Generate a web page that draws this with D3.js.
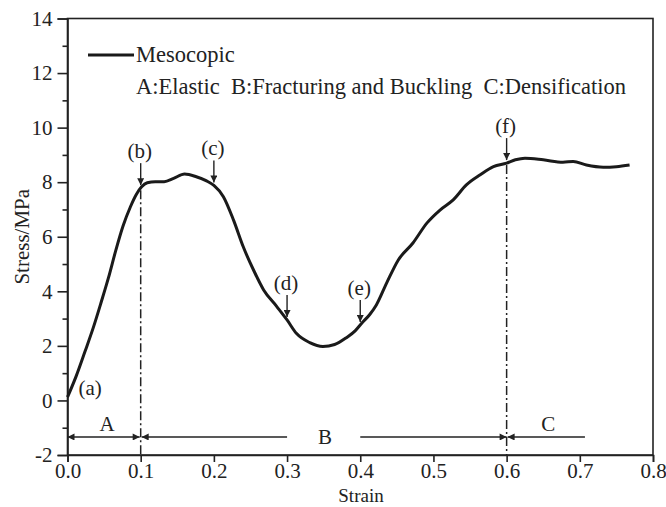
<!DOCTYPE html>
<html>
<head>
<meta charset="utf-8">
<script src="https://cdn.jsdelivr.net/npm/d3@7"></script>
<style>
  body { margin: 0; background: #fff; }
  svg, svg text { font-family: "Liberation Serif", "Times New Roman", serif; }
</style>
</head>
<body>
<svg width="666" height="507"></svg>
<script>
// stress-strain curve
const strain = [0, 0.012, 0.024, 0.035, 0.046, 0.056, 0.066, 0.076, 0.086, 0.094, 0.101, 0.109, 0.12, 0.132,
    0.145, 0.16, 0.176, 0.19, 0.2, 0.213, 0.227, 0.24, 0.254, 0.268, 0.286, 0.3, 0.313, 0.331, 0.349, 0.365,
    0.381, 0.393, 0.402, 0.413, 0.422, 0.436, 0.452, 0.472, 0.491, 0.509, 0.527, 0.545, 0.564, 0.582, 0.6,
    0.612, 0.625, 0.65, 0.677, 0.691, 0.709, 0.732, 0.75, 0.768];
const stress = [0.12, 0.9, 1.8, 2.65, 3.6, 4.5, 5.5, 6.4, 7.1, 7.55, 7.82, 7.98, 8.02, 8.02,
    8.14, 8.3, 8.2, 8.05, 7.88, 7.47, 6.6, 5.64, 4.79, 4.05, 3.44, 2.95, 2.45, 2.12, 1.98, 2.05,
    2.3, 2.55, 2.83, 3.15, 3.5, 4.3, 5.15, 5.77, 6.5, 6.98, 7.35, 7.9, 8.27, 8.57, 8.7,
    8.82, 8.88, 8.82, 8.73, 8.76, 8.63, 8.55, 8.57, 8.63];

const xTicks = [0, 0.1, 0.2, 0.3, 0.4, 0.5, 0.6, 0.7, 0.8];
const yTicks = [-2, 0, 2, 4, 6, 8, 10, 12, 14];
const yMinor = [-1, 1, 3, 5, 7, 9, 11, 13];

// arrow annotations on the curve
const pointLabels = ['(b)', '(c)', '(d)', '(e)', '(f)'];
const pointStrain = [0.1, 0.2, 0.3, 0.4, 0.6];

// stage boundaries and names
const stageBounds = [0.1, 0.6];
const stageNames = ['A', 'B', 'C'];
const stageLabelX = [0.054, 0.352, 0.657];
const stageArrowY = -1.34;
const legendNames = ['Mesocopic', 'A:Elastic  B:Fracturing and Buckling  C:Densification'];

const svg = d3.select('svg');
const ink = '#222';

const x = d3.scaleLinear().domain([0, 0.8]).range([67.5, 653]);
const y = d3.scaleLinear().domain([-2, 14]).range([455, 18.5]);

const defs = svg.append('defs');
defs.append('marker')
    .attr('id', 'head')
    .attr('viewBox', '0 0 10 10')
    .attr('refX', 10).attr('refY', 5)
    .attr('markerWidth', 10).attr('markerHeight', 7)
    .attr('markerUnits', 'userSpaceOnUse')
    .attr('orient', 'auto-start-reverse')
    .append('path')
    .attr('d', 'M0,0L10,5L0,10Z')
    .attr('fill', ink);

// frame
svg.append('rect')
    .attr('x', x(0)).attr('y', y(14))
    .attr('width', x(0.8) - x(0)).attr('height', y(-2) - y(14))
    .attr('fill', 'none').attr('stroke', ink).attr('stroke-width', 1.6);

// axes
svg.append('g')
    .attr('transform', `translate(0,${y(-2)})`)
    .call(d3.axisBottom(x).tickValues(xTicks).tickFormat(d3.format('.1f')).tickSize(7).tickPadding(1));
svg.append('g')
    .attr('transform', `translate(${x(0)},0)`)
    .call(d3.axisLeft(y).tickValues(yTicks).tickFormat(d => String(d)).tickSize(10).tickPadding(5));
svg.append('g')
    .attr('transform', `translate(${x(0)},0)`)
    .call(d3.axisLeft(y).tickValues(yMinor).tickSize(5).tickFormat(''))
    .select('.domain').remove();

svg.selectAll('g').attr('font-family', null).attr('font-size', null);
svg.selectAll('.domain').attr('stroke', ink).attr('stroke-width', 1.6);
svg.selectAll('.tick line').attr('stroke', ink).attr('stroke-width', 1.6);
svg.selectAll('.tick text').attr('font-size', 21).attr('fill', ink);

svg.append('text')
    .attr('x', 361).attr('y', 502)
    .attr('text-anchor', 'middle').attr('font-size', 19).attr('fill', ink)
    .text('Strain');
svg.append('text')
    .attr('transform', `translate(29,${y(6)}) rotate(-90)`)
    .attr('text-anchor', 'middle').attr('font-size', 21).attr('fill', ink)
    .text('Stress/MPa');

// curve
const pts = strain.map((s, i) => [s, stress[i]]);
const line = d3.line().x(d => x(d[0])).y(d => y(d[1])).curve(d3.curveMonotoneX);
svg.append('path')
    .attr('d', line(pts))
    .attr('fill', 'none').attr('stroke', '#1a1a1a').attr('stroke-width', 3)
    .attr('stroke-linejoin', 'round');

function stressAt(s) {
    const i = d3.bisectRight(strain, s);
    if (i <= 0) return stress[0];
    if (i >= strain.length) return stress[stress.length - 1];
    const t = (s - strain[i - 1]) / (strain[i] - strain[i - 1]);
    return stress[i - 1] + t * (stress[i] - stress[i - 1]);
}

// dash-dot stage lines
svg.selectAll('.stage-line')
    .data(stageBounds)
    .enter()
    .append('line')
    .attr('x1', d => x(d)).attr('x2', d => x(d))
    .attr('y1', d => y(stressAt(d)) + 2).attr('y2', y(-2))
    .attr('stroke', ink).attr('stroke-width', 1.5)
    .attr('stroke-dasharray', '9,3,2,3');

// point arrows
const ann = svg.selectAll('.ann')
    .data(pointStrain)
    .enter()
    .append('g');
ann.append('line')
    .attr('x1', d => x(d)).attr('x2', d => x(d))
    .attr('y1', d => y(stressAt(d)) - 25)
    .attr('y2', d => y(stressAt(d)) - 3)
    .attr('stroke', ink).attr('stroke-width', 1.4)
    .attr('marker-end', 'url(#head)');
ann.append('text')
    .attr('x', d => x(d) - 1)
    .attr('y', d => y(stressAt(d)) - 30)
    .attr('text-anchor', 'middle').attr('font-size', 21).attr('fill', ink)
    .text((d, i) => pointLabels[i]);

svg.append('text')
    .attr('x', x(0.015)).attr('y', y(0.2))
    .attr('font-size', 21).attr('fill', ink)
    .text('(a)');

// stage arrows
const stageSegs = [
    [0, stageBounds[0], true, true],
    [stageBounds[0], 0.3, true, false],
    [0.4, stageBounds[1], false, true],
    [stageBounds[1], 0.707, true, false]
];
svg.selectAll('.seg')
    .data(stageSegs)
    .enter()
    .append('line')
    .attr('x1', d => x(d[0]) + (d[2] && d[0] > 0 ? 1 : 0))
    .attr('x2', d => x(d[1]) - (d[3] && d[1] < 0.6 ? 1 : 0))
    .attr('y1', y(stageArrowY)).attr('y2', y(stageArrowY))
    .attr('stroke', ink).attr('stroke-width', 1.3)
    .attr('marker-start', d => d[2] ? 'url(#head)' : null)
    .attr('marker-end', d => d[3] ? 'url(#head)' : null);

svg.selectAll('.stage-name')
    .data(stageNames)
    .enter()
    .append('text')
    .attr('x', (d, i) => x(stageLabelX[i]))
    .attr('y', (d, i) => i === 1 ? y(stageArrowY) + 7 : y(stageArrowY) - 6)
    .attr('text-anchor', 'middle').attr('font-size', 21).attr('fill', ink)
    .text(d => d);

// legend
svg.append('line')
    .attr('x1', 88).attr('x2', 134).attr('y1', 55).attr('y2', 55)
    .attr('stroke', '#1a1a1a').attr('stroke-width', 3);
svg.selectAll('.legend')
    .data(legendNames)
    .enter()
    .append('text')
    .attr('x', 136)
    .attr('y', (d, i) => 62 + i * 32)
    .attr('font-size', 22.5).attr('fill', ink)
    .style('white-space', 'pre')
    .text(d => d);
</script>
</body>
</html>
